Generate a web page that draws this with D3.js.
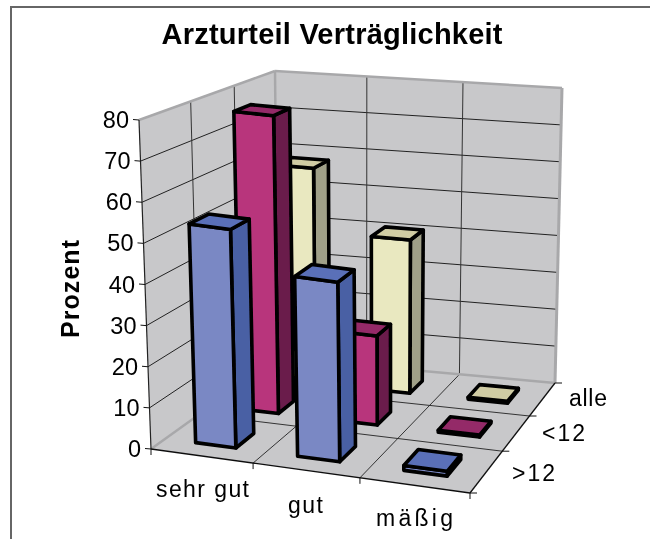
<!DOCTYPE html>
<html><head><meta charset="utf-8">
<script src="https://cdn.jsdelivr.net/npm/d3@7"></script>
<style>html,body{margin:0;padding:0;background:#fff}svg{display:block}text{font-family:"Liberation Sans",Arial,sans-serif;fill:#000}</style>
</head><body><svg id="c" width="650" height="539"><defs><filter id="soft" x="-5%" y="-5%" width="110%" height="110%"><feGaussianBlur stdDeviation="0.45"/></filter></defs></svg>
<script>
const categories = ["sehr gut","gut","mäßig"];
const seriesNames = ["alle","<12",">12"];
const valuesAlle = [58,41,0.5];
const valuesU12 = [77,23,0.5];
const valuesO12 = [54,44.5,1.2];
const yTicks = [0,10,20,30,40,50,60,70,80];

const colors = {
  "alle":{front:"#e9e8c0",side:"#a0a088",top:"#d0cca4"},
  "<12":{front:"#b8367c",side:"#6a1a4c",top:"#942a68"},
  ">12":{front:"#7a88c4",side:"#4a60a4",top:"#5a70b8"}
};

const floorQ = [[151,449],[470,493],[555,383],[278,358]];
const topQ = [[139,120],[472,168],[562,88],[275,71]];
const lerp2=(q,u,v)=>[0,1].map(k=>(1-u)*(1-v)*q[0][k]+u*(1-v)*q[1][k]+u*v*q[2][k]+(1-u)*v*q[3][k]);

const uWarp=d3.scaleLinear().domain([0,1/3,2/3,1]).range([0,0.32,0.655,1]);
const vWarp=d3.scaleLinear().domain([0,1/3,2/3,1]).range([0,0.38,0.70,1]);
const uScale=d3.scaleBand().domain(categories).range([0,1]).paddingInner(0.6).paddingOuter(0.3);
const uStep=d3.scaleLinear().domain([0,categories.length]).range([0,1]);
const depthOrder=[">12","<12","alle"];
const vScale=d3.scaleBand().domain(depthOrder).range([0,1]).paddingInner(0.6).paddingOuter(0.3);
const vStep=d3.scaleLinear().domain([0,depthOrder.length]).range([0,1]);
const hScale=d3.scaleLinear().domain([0,80]).range([0,1]);

function P(u,v,val){
  const U=uWarp(u),V=vWarp(v);
  const a=lerp2(floorQ,U,V),b=lerp2(topQ,U,V),t=hScale(val);
  return [a[0]+(b[0]-a[0])*t,a[1]+(b[1]-a[1])*t];
}
const line=d3.line();
const svg=d3.select("#c");
const root=svg.append("g").attr("filter","url(#soft)");
root.append("rect").attr("width",650).attr("height",539).attr("fill","#fff");
root.append("path").attr("d",line([[11,539],[11,7],[650,7]])).attr("fill","none").attr("stroke","#666").attr("stroke-width",2);

const chart=root.append("g");
function poly(g,pts,fill,stroke,sw){
  return g.append("path").attr("d",line(pts)+"Z").attr("fill",fill)
    .attr("stroke",stroke).attr("stroke-width",sw).attr("stroke-linejoin","round");
}
function seg(g,a,b,stroke,sw){
  return g.append("path").attr("d",line([a,b])).attr("fill","none").attr("stroke",stroke).attr("stroke-width",sw);
}
const wallFill="#c8c8ca";
poly(chart,[P(0,0,0),P(1,0,0),P(1,1,0),P(0,1,0)],wallFill,"none",0);
poly(chart,[P(0,0,0),P(0,1,0),P(0,1,80),P(0,0,80)],wallFill,"none",0);
poly(chart,[P(0,1,0),P(1,1,0),P(1,1,80),P(0,1,80)],wallFill,"none",0);

yTicks.filter(t=>t>0&&t<80).forEach(t=>{
  seg(chart,P(0,0,t),P(0,1,t),"#222",1);
  seg(chart,P(0,1,t),P(1,1,t),"#222",1);
});
d3.range(1,categories.length).forEach(i=>{
  const u=uStep(i);
  seg(chart,P(u,0,0),P(u,1,0),"#222",0.9);
  seg(chart,P(u,1,0),P(u,1,80),"#333",1);
});
d3.range(1,depthOrder.length).forEach(i=>{
  const v=vStep(i);
  seg(chart,P(0,v,0),P(1,v,0),"#222",0.9);
  seg(chart,P(0,v,0),P(0,v,80),"#333",1);
});
seg(chart,P(0,0,80),P(0,1,80),"#a8a8aa",2.5);
seg(chart,P(0,1,80),P(1,1,80),"#a8a8aa",2.5);
seg(chart,P(0,1,0),P(0,1,80),"#a8a8aa",2.5);
seg(chart,P(1,1,0),P(1,1,80),"#a8a8aa",3);
seg(chart,P(0,0,0),P(0,1,0),"#a8a8aa",2.5);
seg(chart,P(0,1,0),P(1,1,0),"#a8a8aa",2.5);

seg(chart,P(0,0,0),P(0,0,80),"#222",1.2);
seg(chart,P(0,0,0),P(1,0,0),"#111",1.3);
seg(chart,P(1,0,0),P(1,1,0),"#111",1.3);

yTicks.forEach(t=>{
  const p=P(0,0,t);
  seg(chart,[p[0]-6,p[1]-0.5],p,"#111",1);
  chart.append("text").attr("x",p[0]-10).attr("y",p[1]+8)
    .attr("text-anchor","end").attr("font-size",23.5).text(t);
});
d3.range(0,categories.length+1).forEach(i=>{
  const p=P(uStep(i),0,0);
  seg(chart,p,[p[0],p[1]+6],"#111",1);
});
d3.range(0,depthOrder.length+1).forEach(i=>{
  const p=P(1,vStep(i),0);
  seg(chart,p,[p[0]+7,p[1]],"#111",1);
});

const valuesBy={"alle":valuesAlle,"<12":valuesU12,">12":valuesO12};
function bar(cat,ser,val){
  const u0=uScale(cat),u1=u0+uScale.bandwidth();
  const v0=vScale(ser),v1=v0+vScale.bandwidth();
  const c=colors[ser],g=chart.append("g"),sw=3.6;
  poly(g,[P(u1,v0,0),P(u1,v1,0),P(u1,v1,val),P(u1,v0,val)],c.side,"#000",sw);
  poly(g,[P(u0,v0,0),P(u1,v0,0),P(u1,v0,val),P(u0,v0,val)],c.front,"#000",sw);
  poly(g,[P(u0,v0,val),P(u1,v0,val),P(u1,v1,val),P(u0,v1,val)],c.top,"#000",sw);
}
[...depthOrder].reverse().forEach(s=>{
  categories.forEach((cat,i)=>bar(cat,s,valuesBy[s][i]));
});

root.append("text").attr("x",332).attr("y",44).attr("text-anchor","middle")
  .attr("font-size",29).attr("font-weight","bold").attr("textLength",341).attr("lengthAdjust","spacing").text("Arzturteil Verträglichkeit");
root.append("text").attr("transform","translate(79,338) rotate(-90)")
  .attr("font-size",25).attr("font-weight","bold").attr("textLength",98).attr("lengthAdjust","spacing").text("Prozent");
const catPos=[[156,497],[288,513],[376,526]];
const catLen=[93,35,77];
categories.forEach((c,i)=>root.append("text").attr("x",catPos[i][0]).attr("y",catPos[i][1])
  .attr("font-size",23).attr("textLength",catLen[i]).attr("lengthAdjust","spacing").text(c));
const serPos=[[569,406],[542,441],[512,481]];
const serLen=[38,43,43];
seriesNames.forEach((s,i)=>root.append("text").attr("x",serPos[i][0]).attr("y",serPos[i][1])
  .attr("font-size",23).attr("textLength",serLen[i]).attr("lengthAdjust","spacing").text(s));
</script></body></html>
